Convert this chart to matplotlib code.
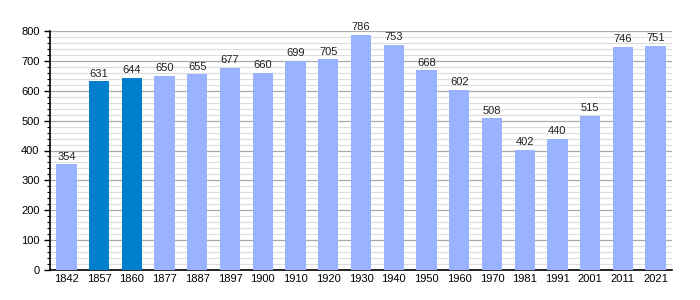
import matplotlib.pyplot as plt
from matplotlib.ticker import MultipleLocator

years = ["1842", "1857", "1860", "1877", "1887", "1897", "1900", "1910", "1920", "1930",
         "1940", "1950", "1960", "1970", "1981", "1991", "2001", "2011", "2021"]
population = [354, 631, 644, 650, 655, 677, 660, 699, 705, 786,
              753, 668, 602, 508, 402, 440, 515, 746, 751]
highlight = ["1857", "1860"]

light = "#99b3ff"
dark = "#0080cc"

fig = plt.figure(figsize=(7, 3), dpi=100)
ax = fig.add_axes([50 / 700, 30 / 300, 622 / 700, 239 / 300])

x = range(len(years))
colors = [dark if y in highlight else light for y in years]
ax.bar(x, population, width=0.62, color=colors, zorder=3)

for xi, v in zip(x, population):
    ax.text(xi, v + 9, str(v), ha="center", va="bottom", fontsize=8, color="#222222",
            family="Liberation Sans")

ax.set_xlim(-0.5, len(years) - 0.5)
ax.set_ylim(0, 800)
ax.set_xticks(list(x))
ax.set_xticklabels(years)
ax.yaxis.set_major_locator(MultipleLocator(100))
ax.yaxis.set_minor_locator(MultipleLocator(20))
ax.grid(axis="y", which="major", color="#aaaaaa", lw=0.9, zorder=0)
ax.grid(axis="y", which="minor", color="#dddddd", lw=0.8, zorder=0)

for s in ["top", "right"]:
    ax.spines[s].set_visible(False)
ax.spines["left"].set_linewidth(1.2)
ax.spines["bottom"].set_linewidth(1.2)
ax.tick_params(axis="x", length=0, labelsize=8, pad=3)
ax.tick_params(axis="y", which="major", length=4, width=1, labelsize=8)
ax.tick_params(axis="y", which="minor", length=2.5, width=0.8)
for lab in ax.get_xticklabels() + ax.get_yticklabels():
    lab.set_family("Liberation Sans")

fig.savefig("out.png", dpi=100)
